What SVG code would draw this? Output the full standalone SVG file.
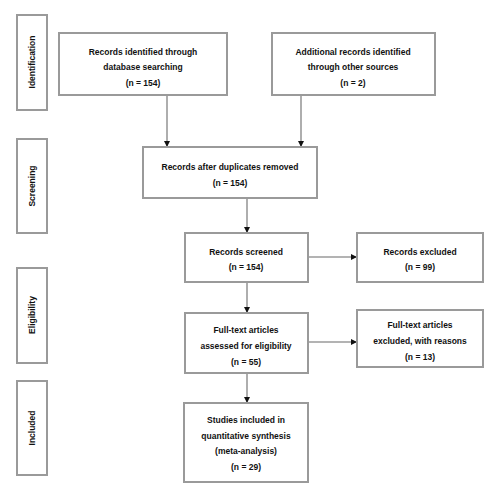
<svg xmlns="http://www.w3.org/2000/svg" width="500" height="500" viewBox="0 0 500 500">
<style>
rect.b{fill:#fff;stroke:#9a9a9a;stroke-width:2}
text{font-family:"Liberation Sans",Arial,sans-serif;font-size:8.5px;font-weight:bold;fill:#111;text-anchor:middle}
.c line{stroke:#9a9a9a;stroke-width:1.6;fill:none}
</style>
<defs>
<marker id="ah" markerWidth="6" markerHeight="6" refX="5" refY="3" orient="auto" markerUnits="userSpaceOnUse">
<path d="M0,0 L6,3 L0,6 Z" fill="#111"/>
</marker>
</defs>
<g id="phase-identification"><rect class="b" x="17" y="15" width="30" height="95"/><text transform="translate(35,62) rotate(-90)">Identification</text></g>
<g id="phase-screening"><rect class="b" x="17" y="139" width="30" height="94"/><text transform="translate(35,186) rotate(-90)">Screening</text></g>
<g id="phase-eligibility"><rect class="b" x="17" y="268" width="30" height="95"/><text transform="translate(35,315) rotate(-90)">Eligibility</text></g>
<g id="phase-included"><rect class="b" x="17" y="381" width="30" height="94"/><text transform="translate(35,428) rotate(-90)">Included</text></g>
<g class="c" id="connectors">
<line x1="167" y1="95" x2="167" y2="146" marker-end="url(#ah)"/>
<line x1="301" y1="95" x2="301" y2="146" marker-end="url(#ah)"/>
<line x1="247" y1="198" x2="247" y2="232" marker-end="url(#ah)"/>
<line x1="308" y1="257" x2="356" y2="257" marker-end="url(#ah)"/>
<line x1="247" y1="282" x2="247" y2="312" marker-end="url(#ah)"/>
<line x1="308" y1="342" x2="356" y2="342" marker-end="url(#ah)"/>
<line x1="247" y1="373" x2="247" y2="402" marker-end="url(#ah)"/>
</g>
<g id="n1"><rect class="b" x="59" y="33" width="168" height="62"/><text x="143" y="55">Records identified through</text><text x="143" y="70">database searching</text><text x="143" y="86">(n = 154)</text></g>
<g id="n2"><rect class="b" x="272" y="33" width="163" height="62"/><text x="353" y="55">Additional records identified</text><text x="353" y="70">through other sources</text><text x="353" y="86">(n = 2)</text></g>
<g id="n3"><rect class="b" x="143" y="147" width="174" height="51"/><text x="230" y="170">Records after duplicates removed</text><text x="230" y="186">(n = 154)</text></g>
<g id="n4"><rect class="b" x="185" y="233" width="123" height="49"/><text x="246" y="255">Records screened</text><text x="246" y="270">(n = 154)</text></g>
<g id="n5"><rect class="b" x="357" y="233" width="126" height="49"/><text x="420" y="255">Records excluded</text><text x="420" y="270">(n = 99)</text></g>
<g id="n6"><rect class="b" x="185" y="313" width="123" height="60"/><text x="246" y="333">Full-text articles</text><text x="246" y="349">assessed for eligibility</text><text x="246" y="365">(n = 55)</text></g>
<g id="n7"><rect class="b" x="357" y="310" width="126" height="57"/><text x="420" y="328">Full-text articles</text><text x="420" y="344">excluded, with reasons</text><text x="420" y="360">(n = 13)</text></g>
<g id="n8"><rect class="b" x="184" y="403" width="124" height="79"/><text x="246" y="423">Studies included in</text><text x="246" y="439">quantitative synthesis</text><text x="246" y="454">(meta-analysis)</text><text x="246" y="470">(n = 29)</text></g>
</svg>
